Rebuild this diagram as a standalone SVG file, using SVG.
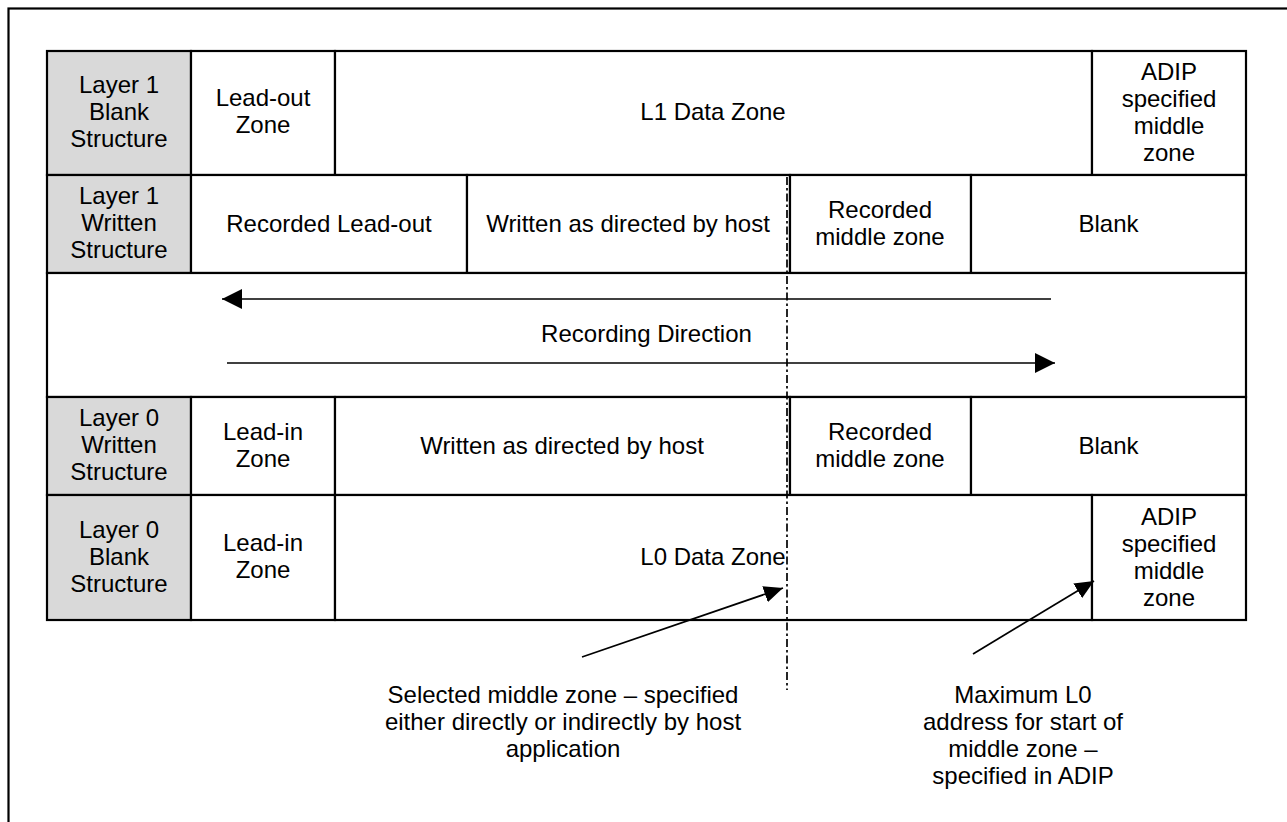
<svg xmlns="http://www.w3.org/2000/svg" width="1287" height="822" viewBox="0 0 1287 822">
<style>
.c{fill:#fff;stroke:#000;stroke-width:2.2}
.g{fill:#d9d9d9;stroke:#000;stroke-width:2.2}
text{font-family:"Liberation Sans",Arial,sans-serif;font-size:24px;fill:#000;text-anchor:middle}
.ln{stroke:#000;stroke-width:1.7;fill:none}
</style>
<defs>
<marker id="ah" markerUnits="userSpaceOnUse" markerWidth="20" markerHeight="20" refX="20" refY="10" orient="auto"><path d="M0,0 L20,10 L0,20 z" fill="#000"/></marker>
<marker id="ah2" markerUnits="userSpaceOnUse" markerWidth="19" markerHeight="17" refX="19" refY="8.5" orient="auto"><path d="M0,0 L19,8.5 L0,17 z" fill="#000"/></marker>
</defs>
<rect x="8.5" y="8.5" width="1300" height="900" fill="#fff" stroke="#000" stroke-width="2.2"/>

<g id="r1-label"><rect class="g" x="47" y="51" width="144" height="124"/><text x="119" y="93">Layer 1</text><text x="119" y="120">Blank</text><text x="119" y="147">Structure</text></g>
<g id="r1-leadout"><rect class="c" x="191" y="51" width="144" height="124"/><text x="263" y="106">Lead-out</text><text x="263" y="133">Zone</text></g>
<g id="r1-data"><rect class="c" x="335" y="51" width="757" height="124"/><text x="713" y="120">L1 Data Zone</text></g>
<g id="r1-adip"><rect class="c" x="1092" y="51" width="154" height="124"/><text x="1169" y="80">ADIP</text><text x="1169" y="107">specified</text><text x="1169" y="134">middle</text><text x="1169" y="161">zone</text></g>

<g id="r2-label"><rect class="g" x="47" y="175" width="144" height="98"/><text x="119" y="204">Layer 1</text><text x="119" y="231">Written</text><text x="119" y="258">Structure</text></g>
<g id="r2-leadout"><rect class="c" x="191" y="175" width="276" height="98"/><text x="329" y="231.5">Recorded Lead-out</text></g>
<g id="r2-written"><rect class="c" x="467" y="175" width="323" height="98"/><text x="628" y="231.5">Written as directed by host</text></g>
<g id="r2-middle"><rect class="c" x="790" y="175" width="181" height="98"/><text x="880" y="218">Recorded</text><text x="880" y="245">middle zone</text></g>
<g id="r2-blank"><rect class="c" x="971" y="175" width="275" height="98"/><text x="1108.5" y="231.5">Blank</text></g>

<g id="r3-direction"><rect class="c" x="47" y="273" width="1199" height="124"/><text x="646.5" y="342">Recording Direction</text></g>

<g id="r4-label"><rect class="g" x="47" y="397" width="144" height="98"/><text x="119" y="426">Layer 0</text><text x="119" y="453">Written</text><text x="119" y="480">Structure</text></g>
<g id="r4-leadin"><rect class="c" x="191" y="397" width="144" height="98"/><text x="263" y="440">Lead-in</text><text x="263" y="467">Zone</text></g>
<g id="r4-written"><rect class="c" x="335" y="397" width="455" height="98"/><text x="562" y="453.5">Written as directed by host</text></g>
<g id="r4-middle"><rect class="c" x="790" y="397" width="181" height="98"/><text x="880" y="440">Recorded</text><text x="880" y="467">middle zone</text></g>
<g id="r4-blank"><rect class="c" x="971" y="397" width="275" height="98"/><text x="1108.5" y="453.5">Blank</text></g>

<g id="r5-label"><rect class="g" x="47" y="495" width="144" height="125"/><text x="119" y="538">Layer 0</text><text x="119" y="565">Blank</text><text x="119" y="592">Structure</text></g>
<g id="r5-leadin"><rect class="c" x="191" y="495" width="144" height="125"/><text x="263" y="551">Lead-in</text><text x="263" y="578">Zone</text></g>
<g id="r5-data"><rect class="c" x="335" y="495" width="757" height="125"/><text x="713" y="565">L0 Data Zone</text></g>
<g id="r5-adip"><rect class="c" x="1092" y="495" width="154" height="125"/><text x="1169" y="525">ADIP</text><text x="1169" y="552">specified</text><text x="1169" y="579">middle</text><text x="1169" y="606">zone</text></g>

<g id="note-selected"><text x="563" y="703">Selected middle zone – specified</text><text x="563" y="730">either directly or indirectly by host</text><text x="563" y="757">application</text></g>
<g id="note-maximum"><text x="1023" y="703">Maximum L0</text><text x="1023" y="730">address for start of</text><text x="1023" y="757">middle zone –</text><text x="1023" y="784">specified in ADIP</text></g>

<g id="connectors">
<line x1="787" y1="177" x2="787" y2="690" stroke="#000" stroke-width="1.7" stroke-dasharray="8 3 2.5 3"/>
<line class="ln" x1="1051" y1="299" x2="222" y2="299" marker-end="url(#ah)"/>
<line class="ln" x1="227" y1="363" x2="1055" y2="363" marker-end="url(#ah)"/>
<line class="ln" x1="582" y1="657" x2="783" y2="588" marker-end="url(#ah2)"/>
<line class="ln" x1="973" y1="654" x2="1094" y2="581" marker-end="url(#ah2)"/>
</g>
</svg>
